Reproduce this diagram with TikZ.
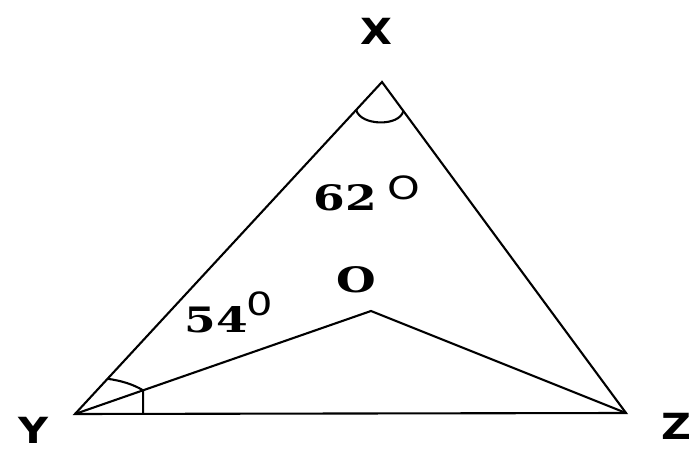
\documentclass[tikz,border=0pt]{standalone}
\usepackage{fontspec}
\usetikzlibrary{calc}
\newfontfamily\labfont[FakeStretch=1.15]{DejaVu Sans Bold}
\newfontfamily\numfont[FakeStretch=1.3]{DejaVu Serif Bold}
\newfontfamily\degfont[FakeStretch=1.3]{DejaVu Sans}
\tikzset{
  edge/.style={draw=black, line width=2.1pt, line join=miter},
  vlabel/.style={inner sep=0pt, font=\labfont\fontsize{36}{40}\selectfont},
  numlabel/.style={inner sep=0pt, font=\numfont\fontsize{35}{39}\selectfont},
  deglabel/.style={inner sep=0pt, font=\degfont\fontsize{32}{36}\selectfont}
}
\begin{document}
\begin{tikzpicture}[x=1pt,y=-1pt]
\useasboundingbox (0,0) rectangle (689,449);
\coordinate (X) at (382,82);
\coordinate (Y) at (75,414);
\coordinate (Z) at (626,413);
\coordinate (O) at (371,311);
% triangle and inner lines
\draw[edge] (Y) -- (X) -- (Z) -- cycle;
\draw[edge] (Y) -- (O) -- (Z);
% angle mark at X
\coordinate (xa) at ($(X)!38pt!(Y)$);
\coordinate (xb) at ($(X)!36pt!(Z)$);
\draw[edge] (xa) .. controls ($(xa)+(4,16)$) and ($(xb)+(-4,16)$) .. (xb);
% angle mark at Y
\coordinate (ya) at ($(Y)!48pt!(X)$);
\coordinate (yb) at ($(Y)!0.23!(O)$);
\coordinate (yc) at (yb |- Y);
\draw[edge] (ya) .. controls ($(ya)+(14,2)$) and ($(yb)+(-10,-6)$) .. (yb) -- (yc);
% labels
\node[vlabel] (lX) at (376,31) {X};
\node[vlabel] (lY) at (33,430) {Y};
\node[vlabel] (lZ) at (677,426) {Z};
\node[numlabel] (l62) at (345,198) {62};
\node[deglabel] (d62) at (404,188) {O};
\node[numlabel] (lO) at (356,280) {O};
\node[numlabel] (l54) at (216,320) {54};
\node[deglabel] (d54) at (260,304) {0};
\end{tikzpicture}
\end{document}
